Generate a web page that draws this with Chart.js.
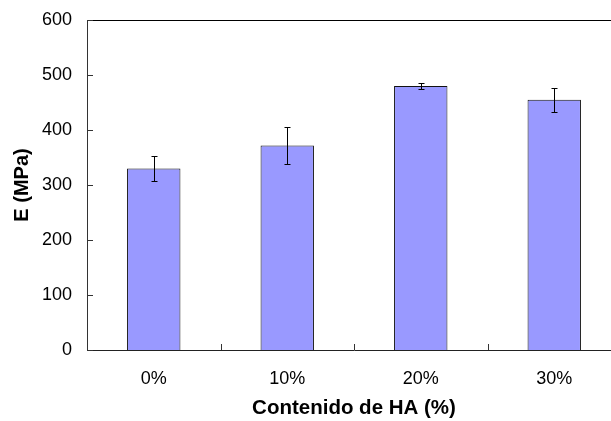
<!DOCTYPE html>
<html>
<head>
<meta charset="utf-8">
<script src="https://cdn.jsdelivr.net/npm/chart.js@4/dist/chart.umd.min.js"></script>
<style>
  html, body { margin: 0; padding: 0; background: #fff; overflow: hidden; }
  #wrap { width: 611px; height: 421px; overflow: hidden; }
  canvas { display: block; }
</style>
</head>
<body>
<div id="wrap"><canvas id="c" width="624" height="421"></canvas></div>
<script>
// Young's modulus by hydroxyapatite content
const categories = ['0%', '10%', '20%', '30%'];
const modulus = [330, 372, 480, 455];
const modulusError = [22, 33, 6, 22];
const yTicks = [0, 100, 200, 300, 400, 500, 600];

const FONT = "'Liberation Sans', Arial, sans-serif";

// Error bars, inward tick marks and the top frame line
const decorations = {
  id: 'decorations',
  afterDatasetsDraw(chart) {
    const ctx = chart.ctx;
    const x = chart.scales.x, y = chart.scales.y;
    const area = chart.chartArea;
    ctx.save();
    // top frame
    ctx.strokeStyle = '#000';
    ctx.lineWidth = 1;
    ctx.beginPath();
    ctx.moveTo(area.left, Math.round(area.top) + 0.5);
    ctx.lineTo(area.right, Math.round(area.top) + 0.5);
    ctx.stroke();
    // y ticks pointing into the plot
    ctx.strokeStyle = '#333';
    yTicks.forEach(v => {
      const py = Math.round(y.getPixelForValue(v)) + 0.5;
      ctx.beginPath();
      ctx.moveTo(area.left, py);
      ctx.lineTo(area.left + 6, py);
      ctx.stroke();
    });
    // x ticks at category boundaries
    for (let i = 1; i < categories.length; i++) {
      const px = Math.round((x.getPixelForTick(i - 1) + x.getPixelForTick(i)) / 2) + 0.5;
      ctx.beginPath();
      ctx.moveTo(px, area.bottom);
      ctx.lineTo(px, area.bottom - 6);
      ctx.stroke();
    }
    // error bars
    ctx.strokeStyle = '#000';
    modulus.forEach((m, i) => {
      const px = Math.round(x.getPixelForTick(i)) + 0.5;
      const hi = Math.round(y.getPixelForValue(m + modulusError[i])) + 0.5;
      const lo = Math.round(y.getPixelForValue(m - modulusError[i])) + 0.5;
      ctx.beginPath();
      ctx.moveTo(px, hi); ctx.lineTo(px, lo);
      ctx.moveTo(px - 3, hi); ctx.lineTo(px + 3, hi);
      ctx.moveTo(px - 3, lo); ctx.lineTo(px + 3, lo);
      ctx.stroke();
    });
    ctx.restore();
  }
};

new Chart(document.getElementById('c'), {
  type: 'bar',
  data: {
    labels: categories,
    datasets: [{
      data: modulus,
      backgroundColor: '#9999FF',
      borderColor: '#111',
      borderWidth: 1,
      categoryPercentage: 1.0,
      barPercentage: 0.4
    }]
  },
  options: {
    responsive: false,
    animation: false,
    layout: { padding: { top: 20, right: 3, left: 0, bottom: 0 } },
    plugins: { legend: { display: false }, tooltip: { enabled: false } },
    scales: {
      x: {
        // tick marks are drawn by the plugin; tickLength only spaces the labels
        grid: { display: false, drawTicks: true, tickLength: 18 },
        border: { display: true, color: '#222', width: 1 },
        ticks: { color: '#000', padding: 0, font: { family: FONT, size: 18 } },
        title: {
          display: true, text: 'Contenido de HA (%)', color: '#000',
          font: { family: FONT, size: 20.5, weight: 'bold' },
          padding: { top: -5, bottom: 0 }
        },
        afterFit(scale) { scale.height = 71; }
      },
      y: {
        min: 0, max: 600,
        afterBuildTicks(scale) { scale.ticks = yTicks.map(v => ({ value: v })); },
        grid: { display: false, drawTicks: true, tickLength: 15 },
        border: { display: true, color: '#333', width: 1 },
        ticks: { color: '#000', padding: 0, font: { family: FONT, size: 18 } },
        title: {
          display: true, text: 'E (MPa)', color: '#000',
          font: { family: FONT, size: 20, weight: 'bold' },
          padding: { top: 10, bottom: 0 }
        },
        afterFit(scale) { scale.width = 87; }
      }
    }
  },
  plugins: [decorations]
});
</script>
</body>
</html>
